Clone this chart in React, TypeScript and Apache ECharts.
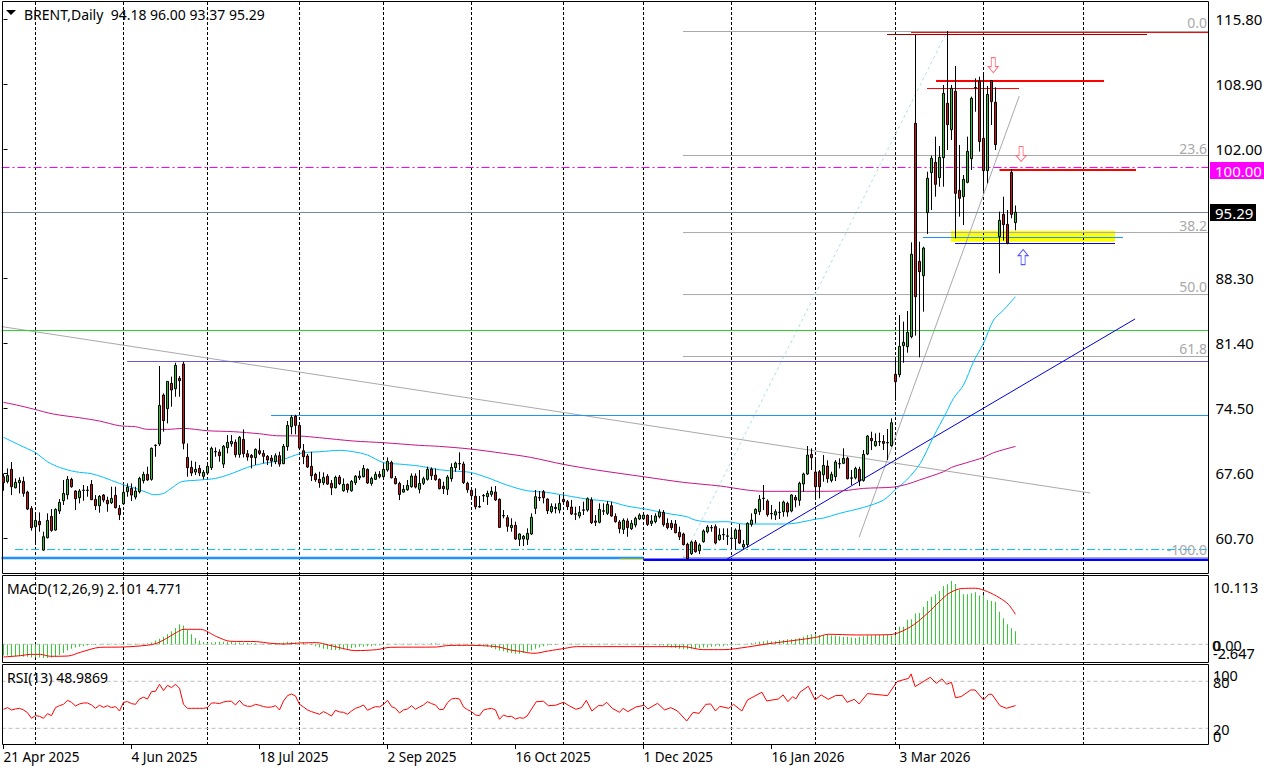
import React, { useEffect, useRef } from "react";
import * as echarts from "echarts";

// ---------- data ----------
const dateLabels = ["21 Apr 2025", "4 Jun 2025", "18 Jul 2025", "2 Sep 2025", "16 Oct 2025", "1 Dec 2025", "16 Jan 2026", "3 Mar 2026"];
const priceTicks = [115.8, 108.9, 102.0, 88.3, 81.4, 74.5, 67.6, 60.7];
const monthBars = [8, 30, 51, 74, 95, 117, 140, 160, 182, 203, 223, 245, 270];

// open, close, low, high
const ohlc: number[][] = [
[67.21,66.57,65.72,67.49],[66.71,67.35,66.50,68.09],[67.99,66.15,65.26,68.77],[66.04,66.61,65.97,67.03],[66.57,66.82,65.44,67.14],
[66.71,65.44,65.09,67.21],[65.58,63.78,63.67,65.72],[63.85,61.80,61.48,64.10],[61.90,62.57,60.03,63.42],[62.47,62.11,61.37,63.42],
[59.42,60.84,59.35,61.37],[60.73,62.57,60.66,63.32],[63.00,61.51,61.37,63.78],[61.55,63.74,61.48,63.85],[63.57,64.49,63.25,64.84],
[64.66,65.44,64.20,66.86],[65.30,66.93,64.80,67.28],[66.93,66.15,66.04,67.10],[65.69,64.87,63.67,65.79],[64.98,65.69,64.38,65.90],
[65.76,65.79,64.66,66.33],[65.76,65.79,65.09,66.22],[66.40,64.77,64.73,66.86],[64.80,64.13,63.67,65.26],[64.13,65.12,63.39,65.26],
[65.26,64.73,64.49,65.37],[64.70,64.34,63.49,65.09],[64.45,64.91,64.31,66.15],[65.23,63.92,63.85,66.15],[63.85,63.18,62.61,64.20],
[64.34,65.55,64.31,66.33],[65.62,66.11,65.09,66.50],[65.97,65.26,64.63,66.50],[65.05,65.69,64.80,66.15],[65.62,67.03,65.44,67.21],
[66.79,67.46,66.50,67.74],[67.46,66.86,66.79,68.27],[66.93,70.22,66.79,70.32],[70.52,70.56,69.33,70.64],[70.68,74.78,70.47,78.96],
[75.88,73.16,71.99,76.06],[74.43,77.33,72.87,77.33],[77.12,76.41,74.64,77.83],[76.55,79.03,75.70,79.31],[77.65,77.40,75.70,77.90],
[79.17,70.75,70.11,79.42],[69.26,68.17,67.21,70.75],[68.20,67.60,67.28,68.91],[67.71,67.99,67.39,68.80],[68.09,67.60,67.28,68.45],
[67.25,67.67,66.93,67.92],[67.60,68.31,67.49,68.70],[68.17,70.22,67.92,70.40],[69.84,69.88,69.33,70.32],[69.83,69.44,68.80,70.11],
[68.55,70.43,68.13,70.57],[70.29,70.86,69.69,71.63],[70.71,70.96,70.40,71.63],[70.86,69.55,69.26,71.17],[69.58,71.39,69.23,71.53],
[71.17,69.65,69.26,72.24],[69.65,69.30,68.91,70.04],[69.47,69.26,68.09,69.62],[69.23,70.11,68.45,70.22],[69.97,69.69,69.51,71.28],
[69.69,69.37,68.63,70.04],[69.37,68.98,68.45,69.51],[69.19,68.87,68.27,69.51],[68.80,69.44,68.55,69.69],[69.44,68.55,68.27,69.86],
[68.59,70.43,68.55,70.68],[70.40,72.66,69.97,73.12],[72.52,73.51,71.71,73.76],[73.65,72.66,71.71,73.79],[72.66,70.25,70.18,72.94],
[69.97,69.33,68.55,70.68],[69.40,68.24,68.13,69.62],[68.31,67.32,66.75,69.86],[67.46,66.89,66.68,67.63],[66.93,66.57,66.04,67.74],
[66.57,67.14,66.33,67.67],[67.25,66.43,66.33,67.49],[66.50,66.04,65.26,66.86],[66.04,67.14,65.97,67.32],[67.17,66.47,66.33,67.39],
[65.72,66.40,65.62,67.03],[66.40,65.83,65.51,66.50],[65.72,66.71,65.62,66.86],[66.57,67.25,66.33,67.39],[67.10,67.28,66.86,67.85],
[67.21,68.09,67.14,68.45],[67.99,66.54,66.43,68.09],[66.50,67.03,66.25,67.21],[66.93,67.46,66.86,67.74],[67.46,67.21,67.03,67.81],
[67.21,67.99,67.14,68.55],[67.92,68.84,67.74,69.26],[68.73,67.10,67.03,68.91],[67.03,66.47,66.40,67.28],[66.50,65.33,64.73,66.68],
[65.58,65.87,65.51,66.33],[65.83,66.29,65.72,66.86],[66.15,67.28,66.04,67.56],[67.28,66.11,65.97,67.56],[65.87,66.50,65.44,67.92],
[66.51,67.00,66.33,67.21],[66.93,67.99,66.79,68.28],[68.03,67.32,66.86,68.20],[67.39,66.90,66.79,68.10],[66.93,65.94,65.87,67.04],
[66.19,65.94,65.37,66.68],[65.87,67.18,65.27,67.39],[67.00,68.20,66.68,68.63],[68.17,68.66,67.74,68.81],[68.57,68.61,67.92,69.80],
[68.56,66.58,66.44,68.81],[66.51,65.83,65.51,66.68],[65.76,65.20,64.74,65.98],[65.13,64.03,63.75,65.98],[64.05,63.99,63.92,65.16],
[65.18,65.22,64.52,65.37],[65.09,65.44,64.21,65.73],[65.34,65.66,65.09,66.15],[65.59,64.74,64.63,66.22],[64.81,61.83,61.80,64.91],
[63.09,63.05,62.79,63.67],[62.86,61.94,61.37,63.14],[61.80,62.05,61.37,62.79],[62.05,60.60,60.49,62.44],[60.56,61.13,59.85,61.20],
[60.60,60.88,59.85,61.02],[60.56,61.20,59.96,61.73],[61.13,62.90,61.02,63.32],[63.85,65.09,63.25,65.80],[64.96,65.00,64.63,65.69],
[65.62,64.98,64.38,65.80],[64.84,63.60,63.25,64.91],[63.50,64.06,63.32,64.38],[63.82,63.96,63.32,64.38],[63.67,64.38,63.32,65.27],
[64.81,64.56,64.45,65.27],[64.56,64.03,63.67,64.74],[63.99,63.25,63.14,64.74],[63.23,63.27,62.61,64.03],[63.04,63.43,62.79,64.10],
[63.65,63.69,63.14,64.56],[63.67,64.88,63.50,65.02],[64.74,62.33,62.19,65.02],[62.51,62.37,61.98,63.14],[62.37,63.75,62.26,64.38],
[63.55,63.59,63.14,64.38],[63.32,64.28,63.14,64.63],[64.13,63.04,62.97,64.56],[63.00,62.44,62.33,63.32],[62.40,61.69,61.20,62.61],
[61.62,62.58,61.13,62.79],[62.51,61.80,60.84,62.79],[61.69,62.26,61.55,62.61],[62.08,62.79,61.83,62.97],[62.72,63.14,62.61,63.32],
[62.75,63.14,62.61,63.32],[63.11,62.15,61.98,63.21],[62.26,62.51,61.98,63.14],[62.44,63.04,62.26,63.32],[62.97,63.46,62.79,63.75],
[63.43,62.12,61.91,63.67],[62.26,61.80,61.62,62.79],[62.26,61.80,61.55,62.61],[62.19,61.27,61.20,62.61],[61.30,60.84,60.49,61.91],
[61.13,60.00,59.92,61.27],[60.03,58.51,58.44,60.21],[59.04,60.28,58.90,60.42],[60.28,59.25,59.15,60.49],[59.36,59.96,59.00,60.14],
[60.31,61.45,60.21,61.62],[61.37,61.87,61.20,62.08],[61.78,61.82,61.37,62.08],[61.91,60.17,60.03,62.15],[60.53,61.02,60.42,61.73],
[61.04,61.08,60.49,61.73],[60.89,60.93,59.96,61.73],[60.69,60.65,59.50,61.73],[60.63,61.55,59.43,61.73],[61.55,60.17,60.06,62.19],
[59.75,60.03,59.53,60.49],[59.99,62.26,59.68,62.37],[62.15,62.61,61.91,63.32],[63.29,63.75,62.26,63.85],[63.50,64.81,63.14,65.27],
[64.93,64.89,63.67,66.33],[64.63,63.18,62.97,64.81],[63.31,63.27,62.68,64.21],[63.14,63.50,62.61,63.75],[63.41,63.45,62.72,64.56],
[63.50,64.52,62.97,64.67],[64.38,63.46,62.97,64.56],[63.57,65.27,63.43,65.34],[65.02,64.74,63.96,65.27],[64.70,66.51,64.13,66.68],
[66.44,67.50,65.62,67.64],[67.50,69.51,67.39,70.47],[69.58,69.23,67.92,70.22],[67.71,66.15,65.02,68.98],[67.74,66.15,64.91,67.92],
[67.42,68.41,66.68,69.51],[68.34,67.00,66.57,68.95],[66.82,67.46,66.61,67.74],[67.21,68.77,66.75,68.98],[68.57,68.61,68.09,69.16],
[68.63,69.16,68.55,70.22],[69.16,67.00,66.93,69.33],[67.05,67.09,66.33,67.92],[67.10,68.09,66.93,68.27],[67.99,66.75,66.22,68.27],
[66.82,69.58,66.68,70.04],[69.62,71.53,69.51,71.63],[71.28,71.03,70.04,71.99],[70.50,70.96,70.40,71.81],[70.91,70.95,70.47,71.88],
[70.96,70.75,70.04,71.63],[70.80,70.84,68.98,72.27],[70.50,72.94,70.40,73.40],[78.08,77.30,75.28,79.88],[78.04,81.05,77.76,84.37],
[81.12,81.47,79.31,83.67],[81.01,82.53,80.38,84.80],[82.07,90.82,81.90,92.09],[104.73,86.32,82.18,114.10],[90.07,88.98,79.88,92.16],
[88.55,91.49,84.73,91.63],[95.24,98.89,92.98,99.59],[99.49,101.01,95.52,101.30],[100.58,98.25,96.94,103.31],[98.96,101.12,98.00,102.32],
[101.08,107.91,98.00,108.80],[106.85,104.58,101.89,114.53],[104.05,108.44,102.96,108.80],[108.12,97.29,92.52,110.81],[97.61,96.76,94.82,102.43],
[96.94,98.78,93.93,99.24],[98.46,101.75,98.36,103.31],[100.97,107.38,99.77,107.56],[108.49,108.53,105.96,109.50],[109.22,102.78,101.72,109.68],
[103.13,99.70,97.47,109.86],[99.70,107.80,98.36,108.69],[109.26,107.03,104.55,109.33],[106.96,102.46,101.89,108.55],[92.69,94.43,88.80,95.35],
[95.06,93.97,92.27,96.94],[94.00,91.99,91.88,95.52],[99.52,95.06,94.64,99.84],[94.18,95.29,93.37,96.00],
];

// [bar, price]
const maFast: number[][] = [
[0,71.39],[4,70.57],[8,69.76],[11,68.80],[14,68.20],[18,67.74],[22,67.53],[25,67.14],[29,66.50],[33,65.97],[36,65.51],[37.5,65.30],[40,65.44],[42.5,66.15],[44.5,66.68],[49,66.86],[53,67.03],[56.5,67.46],[61,68.20],[65,68.63],[69,68.91],[73,69.51],[75,69.76],[79,69.86],[84,70.01],[87.5,69.86],[91,69.51],[95,68.70],[99,68.55],[104,68.34],
[108.3,67.99],[112.5,67.81],[116.7,67.67],[120.8,67.14],[125.8,66.33],[130.8,65.73],[135.8,65.55],[140.8,65.20],[145.8,64.84],[151.7,64.56],[155.8,64.10],[160.8,63.75],[165.8,63.32],[170.8,62.97],[172.9,62.61],[176.7,62.40],[180.8,62.44],[185,62.19],[195.8,62.19],[203.3,62.72],
[205,62.82],[209,63.32],[215,63.95],[220,64.73],[223.3,65.97],[225.8,66.86],[229.2,68.63],[232.5,71.46],[235.8,74.11],[237.5,75.53],[240,76.94],[242.5,79.42],[245,81.37],[247.5,83.84],[250,84.90],[253,86.32],
];
const maSlow: number[][] = [
[0,75.10],[3.3,74.82],[7.5,74.39],[12.5,73.86],[19,73.47],[24,73.12],[29,72.62],[33,72.52],[36,72.24],[41,72.24],[45,72.34],[51,72.09],[57.5,71.99],[64,71.77],[68.3,71.56],[74,71.53],[79,71.35],[87.5,71.00],[95,70.82],[104,70.54],
[109,70.43],[116.7,70.15],[125,69.69],[131.7,69.27],[140,68.52],[148.3,67.92],[160,67.21],[170,66.61],[179.2,66.22],[185.8,65.80],[190,65.66],[204.2,65.66],
[210,65.72],[215,65.97],[222.5,66.11],[226,66.43],[229,66.86],[235,67.74],[237,68.20],[240.8,68.70],[245,69.26],[247.5,69.76],[253,70.43],
];

const macdHist: number[] = [
-1.8,-1.8,-1.9,-1.9,-1.9,-2.0,-2.0,-2.1,-2.1,-2.1,
-2.2,-2.2,-2.1,-2.0,-1.7,-1.4,-1.0,-0.7,-0.5,-0.4,
-0.3,-0.2,-0.1,-0.1,0.05,0.1,0.1,0.1,0.05,0.1,
0.1,0.1,0.05,0.1,0.1,0.1,0.15,0.3,0.6,0.9,
1.2,1.6,2.1,2.6,3.2,3.0,2.3,1.6,1.0,0.6,
0.35,0.25,0.3,0.35,0.4,0.4,0.4,0.35,0.3,0.3,
0.25,0.2,0.2,0.15,0.1,0.1,0.1,0.15,0.2,0.2,
0.3,0.4,0.35,0.3,0.5,0.3,0.1,-0.1,-0.3,-0.5,
-0.7,-0.8,-0.9,-0.9,-0.9,-0.8,-0.7,-0.6,-0.5,-0.4,
-0.4,-0.3,-0.3,-0.2,-0.15,-0.1,-0.1,0,0.1,0.1,
0.1,0.1,0.1,0.1,0.1,0.1,0.1,0.15,0.15,0.1,
0.1,0.1,0.1,0.1,0.1,0.1,0.1,0.1,0,-0.1,
-0.2,-0.4,-0.6,-0.8,-1.0,-1.1,-1.3,-1.4,-1.5,-1.5,
-1.4,-1.2,-1.0,-0.7,-0.5,-0.3,-0.2,-0.1,-0.1,0,
0.05,0.1,0.1,0.1,0.1,0.1,0.1,0.1,0.1,0.1,
0.1,0.1,0.05,0.1,0.1,0.1,0.1,0.1,0.1,0.1,
0.05,0,-0.05,-0.1,-0.2,-0.2,-0.3,-0.5,-0.6,-0.7,
-0.8,-0.8,-0.7,-0.7,-0.6,-0.5,-0.5,-0.4,-0.3,-0.3,
-0.3,-0.2,-0.2,-0.1,-0.1,0,0.1,0.2,0.3,0.4,
0.5,0.6,0.5,0.5,0.7,0.7,0.8,0.8,0.9,1.0,
1.2,1.5,1.6,1.7,1.5,1.5,1.5,1.4,1.4,1.3,
1.2,1.2,1.1,1.0,1.2,1.3,1.4,1.4,1.5,1.5,
1.5,1.5,1.4,1.5,2.8,2.8,3.9,4.0,4.9,5.0,
6.0,6.9,7.6,8.0,8.5,9.3,9.57,10.11,9.6,8.7,
8.0,8.0,8.14,8.3,7.77,7.87,7.07,6.9,6.8,5.2,
4.15,3.19,2.55,2.10,
];
const macdSignal: number[][] = [
[0,-2.02],[4.2,-1.81],[6.7,-1.6],[9.2,-1.6],[11.7,-1.91],[16.2,-1.86],[19.2,-1.28],[24.2,-0.48],[30,-0.43],[35.8,-0.16],[38.3,0.16],[40.8,0.96],[43.3,1.91],[45,2.39],[49.2,2.39],[53.3,1.22],[56.7,0.48],[63.3,0.43],[66.7,0.16],[70,0.05],[74.2,0.21],[78.3,0.27],[81.2,-0.11],[85.8,-0.8],[87.9,-1.01],[93.3,-0.85],[96.7,-0.48],[108.3,-0.43],[110.8,-0.21],[115.8,-0.16],[123.3,-0.37],[126.7,-0.9],[129.2,-1.12],
[132.6,-1.44],[136.2,-1.06],[140.4,-0.64],[143.3,-0.37],[170,-0.37],[174.8,-0.85],[180.1,-0.85],[186,-0.43],[190.8,0.05],[197.9,0.64],[203.2,1.12],[206.2,1.6],[213.3,1.49],[221.6,1.54],[224,1.91],[227.5,3.09],[231,4.95],[234,6.81],[236.4,8.14],[239.4,8.88],[243,8.94],[246,8.4],[248.9,7.45],[251.2,6.38],[253,4.77],
];

const rsiDaily: number[] = [
44.3,46.4,43.4,44.7,45.5,43.4,40.0,32.8,36.2,35.3,32.8,38.7,36.2,46.4,48.9,50.6,55.7,53.2,48.5,51.1,
52.3,52.3,49.8,45.5,49.4,46.8,48.9,46.4,47.7,42.1,53.2,54.0,51.5,50.6,57.4,59.6,57.4,66.8,67.2,76.2,
68.1,74.9,71.9,76.2,71.1,50.6,45.5,45.5,45.5,45.5,45.5,46.4,52.3,52.3,51.5,53.6,54.5,54.5,49.8,55.7,
49.8,48.1,48.1,50.6,49.4,47.7,46.8,47.2,48.9,43.4,54.9,61.7,63.8,61.3,50.6,47.2,43.4,41.3,39.6,37.9,
41.3,38.7,35.7,43.0,40.9,40.4,37.9,42.1,45.5,47.2,49.8,43.0,45.5,47.7,47.2,50.6,55.7,47.7,45.5,39.6,
43.4,44.7,48.9,44.3,47.2,49.8,54.0,51.5,49.8,43.8,44.3,52.8,57.4,58.3,57.4,47.2,43.8,41.3,37.0,36.2,
43.4,44.7,45.5,43.4,31.5,37.0,34.9,35.3,31.9,33.6,
];
const rsiLater: number[][] = [
[130,32.8],[130.9,35.7],[133.2,54.0],[135,54.5],[136.2,48.9],[138,49.4],[140,53.2],[141.5,48.5],[143.1,44.3],[144.5,46.4],[145.7,55.7],[147.1,42.1],[148.7,48.9],[149.8,48.9],[150.8,53.2],[152.2,45.5],[154,40.4],[154.9,45.5],[156.1,41.3],[158.1,47.2],[160.2,49.4],[161.1,44.7],[163.5,51.9],[165.3,43.4],[166.8,46.4],[168.5,42.1],[170.8,29.3],[172.4,40.4],[173.9,39.1],[175.6,50.6],[176.8,51.1],[178,42.1],[179.1,48.1],[181.3,45.5],[182.5,50.6],[184.6,42.1],[186,56.2],[189.6,66],[190.8,54.9],[193.7,57.4],[194.9,62.6],[196.1,54],[197.3,60.4],[198.1,57.4],[199.1,66],[201.2,73.6],[202.9,56.2],[204.4,62.6],[206.2,57],[208,61.7],[209.7,62.1],[210.9,53.2],[212.7,57],[213.9,51.1],[216,64.3],[221,61.7],[223.4,79.6],[226.3,83.8],[226.9,89.4],[227.9,73.2],[231.7,85.1],[233.2,77.4],[234.6,83],[235.8,76.2],[237,78.7],[238,59.1],[239.4,60.4],[241.8,68.9],[242.9,68.9],[245,56.2],[246.3,63.4],[247.1,63.4],[249.1,48.9],[250.7,45.5],[253,48.99],
];

const RIGHT = 301.25;
const fibPrices = [114.47, 101.31, 93.13, 86.55, 79.97, 58.63];
const fibNames = ["0.0", "23.6", "38.2", "50.0", "61.8", "-100.0"];
const fibStartBar = 169.88;
const fibExtension = [[2.9, 59.48], [RIGHT, 59.48]];
const fibRay = [[169.88, 58.63], [235.88, 114.47]];
const longDowntrend = [[-0.5, 83.15], [271.7, 65.48]];
const steepChannel = [[213.9, 60.78], [253.95, 107.63]];
const blueTrend = [[180.9, 58.47], [282.9, 83.96]];
const greenLevel = [[-0.5, 82.73], [RIGHT, 82.73]];
const purpleLevel = [[30.9, 79.44], [RIGHT, 79.44]];
const azureLevel = [[66.9, 73.71], [RIGHT, 73.71]];
const bidLevel = [[-0.5, 95.26], [RIGHT, 95.26]];
const roundLevel = [[-0.5, 100.04], [RIGHT, 100.04]];
const baseLevelLeft = [[-0.5, 58.58], [160, 58.58]];
const baseLevelRight = [[160, 58.4], [RIGHT, 58.4]];
const baseLevelStub = [[154, 58.45], [160, 58.45]];
const redTop = [[226.88, 114.37], [RIGHT, 114.37]];
const darkRedTop = [[220.88, 114.15], [285.88, 114.15]];
const redUpper = [[233.13, 109.22], [275.13, 109.22]];
const redThin = [[230.88, 108.42], [253.88, 108.42]];
const redMid = [[249, 99.77], [283.13, 99.77]];
const azureSupport = [[229.8, 92.6], [279.88, 92.6]];
const blueSupport = [[237.88, 91.97], [277.88, 91.97]];
const yellowZone = [[236.88, 93.29], [277.88, 92.16]];
const downArrows = [[247.45, 110.9], [254.4, 101.47]];
const upArrows = [[254.9, 90.53]];

const BARS = 302;
const categories = Array.from({ length: BARS }, (_, i) => (i % 32 === 0 ? dateLabels[i / 32] ?? "" : ""));
const FONT = "'Noto Sans', sans-serif";
const ARROW_UP = "path://M5 0 L10 6 L7 6 L7 15 L3 15 L3 6 L0 6 Z";
const ARROW_DOWN = "path://M3 0 L7 0 L7 9 L10 9 L5 15 L0 9 L3 9 Z";

function seg(data: any[], color: string, width = 1, dash: any = "solid", z = 3, xAxisIndex = 1, yAxisIndex = 0, smooth: any = false) {
  return {
    type: "line", data, xAxisIndex, yAxisIndex, z, silent: true, symbol: "none", showSymbol: false, smooth,
    lineStyle: { color, width, type: dash }, animation: false,
  };
}

function txt(text: string, x: number, y: number, fill = "#000", align = "left", size = 14) {
  return { type: "text", x, y, z: 50, silent: true, style: { text, fill, fontSize: size, fontFamily: FONT, align, verticalAlign: "middle" } };
}

function frame(y: number, h: number) {
  return { type: "rect", z: 40, silent: true, shape: { x: 2.5, y, width: 1206, height: h }, style: { fill: "none", stroke: "#000", lineWidth: 1 } };
}

function badge(y: number, w: number, fill: string, text: string) {
  return [
    { type: "rect", z: 45, silent: true, shape: { x: 1210, y, width: w, height: 17 }, style: { fill } },
    { type: "text", z: 46, silent: true, x: 1215, y: y + 8.5, style: { text, fill: "#fff", fontSize: 15, fontFamily: FONT, verticalAlign: "middle" } },
  ];
}

export default function App() {
  const ref = useRef<HTMLDivElement>(null);
  useEffect(() => {
    document.body.style.margin = "0";
    const chart = echarts.init(ref.current!, null, { renderer: "svg" });
    const hiddenValueX = (gridIndex: number) => ({ type: "value", gridIndex, min: -0.5, max: 301.5, show: false });
    const hiddenCatX = (gridIndex: number) => ({ type: "category", gridIndex, data: categories, show: false });
    const option: any = {
      animation: false,
      backgroundColor: "#fff",
      textStyle: { fontFamily: FONT },
      grid: [
        { left: 1.5, top: 2, width: 1208, height: 571, outerBoundsMode: "none" },
        { left: 1.5, top: 576, width: 1208, height: 86, outerBoundsMode: "none" },
        { left: 1.5, top: 665.6, width: 1208, height: 78.4, outerBoundsMode: "none" },
        { left: 1.5, top: 2, width: 1208, height: 743, outerBoundsMode: "none" },
      ],
      xAxis: [
        hiddenCatX(0), hiddenValueX(0), hiddenCatX(1), hiddenValueX(1),
        {
          type: "category", gridIndex: 2, data: categories, position: "bottom",
          axisLine: { show: false },
          axisTick: { show: true, length: 5, alignWithLabel: true, interval: (i: number) => i % 32 === 0 && i / 32 < dateLabels.length, lineStyle: { color: "#000" } },
          axisLabel: { show: true, interval: 0, align: "left", margin: 6, fontSize: 13.5, color: "#000", fontFamily: FONT },
          splitLine: { show: false },
        },
        hiddenValueX(2), hiddenValueX(3),
      ],
      yAxis: [
        {
          type: "value", gridIndex: 0, position: "right", min: 56.989, max: 117.6047, scale: true,
          axisLine: { show: false },
          axisTick: { show: true, length: 4, customValues: priceTicks, lineStyle: { color: "#000" } },
          axisLabel: { show: true, customValues: priceTicks, margin: 6, fontSize: 15, color: "#000", fontFamily: FONT, formatter: (v: number) => v.toFixed(2) },
          splitLine: { show: false },
        },
        { type: "value", gridIndex: 1, min: -2.82, max: 10.89, show: false },
        { type: "value", gridIndex: 2, min: 0, max: 100, show: false },
        { type: "value", gridIndex: 3, min: 0, max: 1, show: false },
      ],
      series: [
        // month separators
        ...monthBars.map((b) => seg([[b, 0], [b, 1]], "#000", 1, [3, 2], 2, 6, 3)),
        // yellow support zone
        {
          type: "line", xAxisIndex: 1, yAxisIndex: 0, z: 1, silent: true, symbol: "none", data: yellowZone, lineStyle: { opacity: 0 },
          markArea: {
            silent: true, itemStyle: { color: "#ffff00", opacity: 1 },
            data: [[{ xAxis: yellowZone[0][0], yAxis: yellowZone[0][1] }, { xAxis: yellowZone[1][0], yAxis: yellowZone[1][1] }]],
          },
        },
        // Fibonacci levels
        ...fibPrices.map((p) => seg([[fibStartBar, p], [RIGHT, p]], "#a9a9a9")),
        seg(fibExtension, "#00bfff", 1, [8, 3, 2, 3]),
        seg(fibRay, "#b0e0e6", 1, [3, 3]),
        // objects
        seg(longDowntrend, "#a9a9a9"),
        seg(steepChannel, "#a9a9a9"),
        seg(greenLevel, "#32cd32"),
        seg(purpleLevel, "#6a5acd"),
        seg(azureLevel, "#1e90ff"),
        seg(bidLevel, "#778899"),
        seg(roundLevel, "#ee00ee", 1, [8, 3, 2, 3]),
        seg(baseLevelLeft, "#1e90ff", 2.4),
        seg(baseLevelStub, "#e6e600", 1),
        seg(baseLevelRight, "#0000ff", 2.4),
        seg(blueTrend, "#0000e0", 1),
        seg(darkRedTop, "#8b0000", 1),
        seg(redTop, "#ff0000", 1),
        seg(redUpper, "#ff0000", 2),
        seg(redThin, "#ff0000", 1),
        seg(redMid, "#ff0000", 2),
        seg(azureSupport, "#1e90ff", 1),
        seg(blueSupport, "#0000cd", 1),
        // moving averages
        seg(maFast, "#00bfff", 1, "solid", 4, 1, 0, 0.3),
        seg(maSlow, "#c71585", 1, "solid", 4, 1, 0, 0.3),
        // candles
        {
          type: "candlestick", xAxisIndex: 0, yAxisIndex: 0, z: 5, silent: true, barWidth: 3, data: ohlc,
          itemStyle: { color: "#22cc22", color0: "#d81010", borderColor: "#000", borderColor0: "#000", borderColorDoji: "#000", borderWidth: 1 },
        },
        // arrows
        {
          type: "scatter", xAxisIndex: 1, yAxisIndex: 0, z: 6, silent: true, symbol: ARROW_DOWN, symbolSize: [10, 15], data: downArrows,
          itemStyle: { color: "#fff", borderColor: "#ff4f5f", borderWidth: 1 },
        },
        {
          type: "scatter", xAxisIndex: 1, yAxisIndex: 0, z: 6, silent: true, symbol: ARROW_UP, symbolSize: [10, 15], data: upArrows,
          itemStyle: { color: "#fff", borderColor: "#2a2aff", borderWidth: 1 },
        },
        // MACD
        seg([[-0.5, 0], [RIGHT, 0]], "#bdbdbd", 1, [4, 3], 2, 3, 1),
        {
          type: "bar", xAxisIndex: 2, yAxisIndex: 1, z: 3, silent: true, barWidth: 1, data: macdHist,
          itemStyle: { color: "#32cd32" },
        },
        seg(macdSignal, "#ff0000", 1, "solid", 4, 3, 1, 0.3),
        // RSI
        seg([[-0.5, 80], [RIGHT, 80]], "#bdbdbd", 1, [4, 3], 2, 5, 2),
        seg([[-0.5, 20], [RIGHT, 20]], "#bdbdbd", 1, [4, 3], 2, 5, 2),
        seg([...rsiDaily.map((v, i) => [i, v]), ...rsiLater], "#ff0000", 1, "solid", 4, 5, 2),
      ],
      graphic: [
        frame(1.5, 572),
        frame(575.5, 87),
        frame(664.5, 80),
        { type: "polygon", z: 50, silent: true, shape: { points: [[6, 10], [16, 10], [11, 15]] }, style: { fill: "#000" } },
        txt("BRENT,Daily  94.18 96.00 93.37 95.29", 24, 14),
        txt("MACD(12,26,9) 2.101 4.771", 7, 588),
        txt("RSI(13) 48.9869", 7, 677),
        ...fibNames.map((n, i) => txt(n, 1207, [22, 148, 225, 286, 348, 549][i], "#a9a9a9", "right")),
        ...badge(162, 54, "#ff00ff", "100.00"),
        ...badge(204, 46, "#000", "95.29"),
        txt("10.113", 1213, 587, "#000", "left", 14.5),
        txt("0", 1212, 645, "#000", "left", 14.5),
        txt("0.00", 1213, 645, "#000", "left", 14.5),
        txt("-2.647", 1213, 653, "#000", "left", 14.5),
        txt("100", 1213, 675, "#000", "left", 14.5),
        txt("80", 1213, 682, "#000", "left", 14.5),
        txt("20", 1213, 729, "#000", "left", 14.5),
        txt("0", 1213, 736, "#000", "left", 14.5),
      ],
    };
    chart.setOption(option);
    return () => chart.dispose();
  }, []);
  return <div ref={ref} style={{ width: 1264, height: 771 }} />;
}
